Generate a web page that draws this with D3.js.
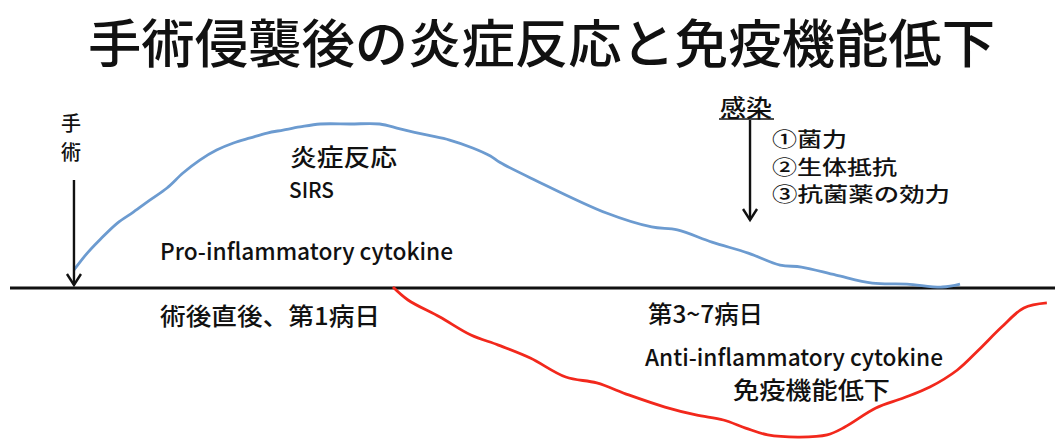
<!DOCTYPE html>
<html><head><meta charset="utf-8">
<script src="https://cdn.jsdelivr.net/npm/d3@7"></script>
<style>
html,body{margin:0;padding:0;background:#fff;}
svg{display:block;}
text{font-family:"Noto Sans CJK JP","Noto Sans",sans-serif;fill:#111;font-weight:500;}
</style></head>
<body>
<svg id="c" width="1055" height="442"></svg>
<script>
// ---- data (time: surgery = 0, end of SIRS = 100; level: SIRS peak = 100) ----
const proTime = [0,1.5,2.9,4.9,6.7,8.6,10.5,12.3,14.2,16.1,18.0,19.9,21.8,23.6,25.5,27.8,31.2,34.5,36.8,39.8,42.4,45.0,47.0,48.1,52.0,60.1,65.2,68.1,72.0,76.1,79.7,82.1,86.0,90.1,94.0,98.0,100];
const proLevel = [11.0,21.3,29.3,39.6,46.3,53.7,61.0,70.1,78.0,84.1,88.4,91.5,94.5,96.3,98.2,100,100,100,97.0,93.3,90.2,85.4,80.5,76.5,65.9,45.7,37.2,35.4,28.0,21.3,14.0,12.8,7.9,3.0,2.4,0.6,2.4];
const antiTime = [36.0,37.7,41.3,44.8,47.9,51.5,55.5,59.0,62.6,66.7,70.2,73.3,75.8,78.3,81.9,85.0,87.0,90.5,93.6,96.6,99.7,102.1,104.7,107.2,109.8];
const antiLevel = [0.6,-7.3,-17.7,-28.7,-34.8,-42.7,-54.3,-57.9,-65.2,-72.6,-77.4,-80.5,-85.4,-89.6,-90.9,-89.6,-84.8,-73.2,-67.1,-60.4,-50.0,-37.8,-23.8,-12.2,-9.1];
const eventNames = ["手術","感染"];
const eventTimes = [0, 76.3];
const title = "手術侵襲後の炎症反応と免疫機能低下";
const infectionFactors = ["①菌力","②生体抵抗","③抗菌薬の効力"];

const svg = d3.select("#c");
const x = d3.scaleLinear().domain([-7.22,110.72]).range([10,1055]);
const y = d3.scaleLinear().domain([0,100]).range([288,124]);

// title
svg.append("text").attr("x",88).attr("y",40).attr("dominant-baseline","central")
  .attr("font-size",52).attr("textLength",907).attr("lengthAdjust","spacingAndGlyphs").text(title);

// baseline axis
svg.append("line").attr("x1",x(-7.22)).attr("x2",x(110.72)).attr("y1",y(0)).attr("y2",y(0))
  .attr("stroke","#111").attr("stroke-width",3);

const line = d3.line().x((d)=>x(d[0])).y((d)=>y(d[1])).curve(d3.curveCatmullRom.alpha(0.5));
svg.append("path").datum(proTime.map((t,i)=>[t,proLevel[i]]))
  .attr("d",line).attr("fill","none").attr("stroke","#6c9bd0").attr("stroke-width",2.8);
svg.append("path").datum(antiTime.map((t,i)=>[t,antiLevel[i]]))
  .attr("d",line).attr("fill","none").attr("stroke","#f2281c").attr("stroke-width",2.8);

// arrows
function arrow(xp, y1, y2){
  const g = svg.append("g").attr("stroke","#111").attr("fill","none").attr("stroke-width",2.4);
  g.append("line").attr("x1",xp).attr("x2",xp).attr("y1",y1).attr("y2",y2);
  g.append("path").attr("d",`M${xp-7},${y2-11} L${xp},${y2} L${xp+7},${y2-11}`).attr("stroke-linejoin","miter");
}
arrow(x(eventTimes[0]), 180, 285);
arrow(x(eventTimes[1]), 120, 220);

function t(str, xp, yp, size, len, opts={}){
  const el = svg.append("text").attr("x",xp).attr("y",yp).attr("font-size",size).text(str);
  if(len) el.attr("textLength",len).attr("lengthAdjust","spacingAndGlyphs");
  if(opts.central) el.attr("dominant-baseline","central");
  return el;
}
// surgery vertical label
t(eventNames[0][0], 71, 122, 20, null, {central:true}).attr("text-anchor","middle");
t(eventNames[0][1], 71, 151, 20, null, {central:true}).attr("text-anchor","middle");

t("炎症反応", 290, 155, 24, 107, {central:true});
t("SIRS", 289, 198, 22, 45);
t("Pro-inflammatory cytokine", 160, 260, 23, 293);
t("術後直後、第1病日", 160, 314, 24, 220, {central:true});
t("第3~7病日", 648, 312, 24, 115, {central:true});
t("Anti-inflammatory cytokine", 645, 366, 23, 298);
t("免疫機能低下", 733, 388, 24, 157, {central:true});

// infection label with underline
t(eventNames[1], 720, 106, 24, 52, {central:true});
svg.append("line").attr("x1",719).attr("x2",774).attr("y1",119).attr("y2",119).attr("stroke","#111").attr("stroke-width",1.5);
const fl = [75,125,178], fy=[138,166,193];
infectionFactors.forEach((s,i)=> t(s, 772, fy[i], 20, fl[i], {central:true}));
</script>
</body></html>
